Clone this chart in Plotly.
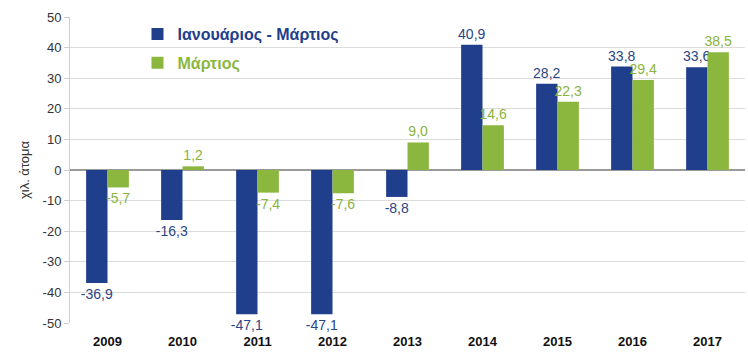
import plotly.graph_objects as go

years = ["2009", "2010", "2011", "2012", "2013", "2014", "2015", "2016", "2017"]
jan_mar = [-36.9, -16.3, -47.1, -47.1, -8.8, 40.9, 28.2, 33.8, 33.6]
march = [-5.7, 1.2, -7.4, -7.6, 9.0, 14.6, 22.3, 29.4, 38.5]
y_ticks = [-50, -40, -30, -20, -10, 0, 10, 20, 30, 40, 50]

BLUE = "#1F3E8C"
GREEN = "#8CB73F"
BLUE_TXT = "#2B4585"
GREEN_TXT = "#8AB33E"


def fmt(v):
    return f"{v:.1f}".replace(".", ",")


fig = go.Figure()
fig.add_trace(go.Bar(
    x=years, y=jan_mar, name=f"<b><span style='color:{BLUE}'>Ιανουάριος - Μάρτιος</span></b>",
    marker=dict(color=BLUE, line=dict(width=0)),
    text=[fmt(v) for v in jan_mar], textposition="outside",
    textfont=dict(color=BLUE_TXT, size=14, family="Arial"),
    constraintext="none",
    cliponaxis=False, legendgroup="a",
))
fig.add_trace(go.Bar(
    x=years, y=march, name=f"<b><span style='color:{GREEN}'>Μάρτιος</span></b>",
    marker=dict(color=GREEN, line=dict(width=0)),
    text=[fmt(v) for v in march], textposition="outside",
    textfont=dict(color=GREEN_TXT, size=14, family="Arial"),
    constraintext="none",
    cliponaxis=False, legendgroup="b",
))

fig.update_layout(
    width=748, height=354,
    margin=dict(l=70, r=3, t=17, b=31),
    paper_bgcolor="white", plot_bgcolor="white",
    barmode="group", bargap=0.43, bargroupgap=0,
    font=dict(family="Arial", size=13, color="#333333"),
    showlegend=True,
    legend=dict(
        x=0.10, y=1.0, xanchor="left", yanchor="top",
        bgcolor="rgba(0,0,0,0)", font=dict(size=16, family="Arial"),
        tracegroupgap=5, itemwidth=30,
    ),
    xaxis=dict(
        showgrid=False, showline=False, ticks="",
        tickvals=years, ticktext=[f"<b>{y}</b>" for y in years],
        tickfont=dict(size=13, color="#111111", family="Arial"),
        ticklabelstandoff=9,
    ),
    yaxis=dict(
        range=[-50, 50], tickvals=y_ticks,
        ticktext=[str(t) for t in y_ticks],
        showgrid=True, gridcolor="#DCDCDC", gridwidth=1,
        zeroline=True, zerolinecolor="#9A9A9A", zerolinewidth=2,
        showline=True, linecolor="#CFCFCF", ticks="outside", tickcolor="#CFCFCF", ticklen=5,
        tickfont=dict(size=13, color="#333333"),
        title=dict(text="χιλ. άτομα", font=dict(size=13, color="#333333"), standoff=10),
    ),
)

fig.write_html("out.html")
